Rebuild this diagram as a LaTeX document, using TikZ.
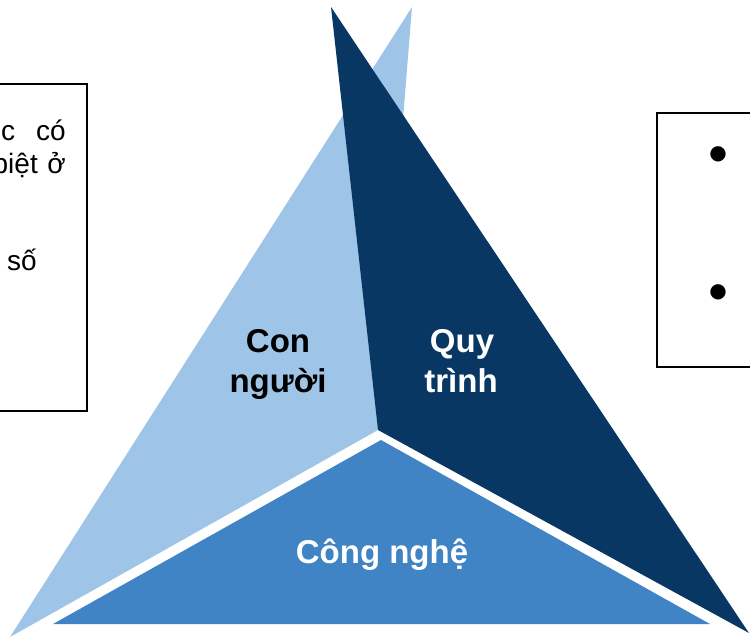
\documentclass[tikz,border=0pt]{standalone}
\usepackage{fontspec}
\setmainfont{Liberation Sans}
\newfontfamily\djv{DejaVu Sans}
\definecolor{lightb}{RGB}{158,196,231}
\definecolor{darkb}{RGB}{9,55,99}
\definecolor{midb}{RGB}{64,132,198}
\tikzset{
  lbl/.style={font=\fontsize{33}{40}\selectfont\bfseries, inner sep=0pt, anchor=base},
  boxtxt/.style={font=\fontsize{28}{32}\selectfont, inner sep=0pt, text=black},
  bul/.style={font=\djv\fontsize{20}{20}\selectfont, inner sep=0pt, text=black},
  frame/.style={draw=black, line width=1.5pt, fill=white}
}
\begin{document}
\begin{tikzpicture}[x=1pt,y=-1pt]
\useasboundingbox (0,0) rectangle (750,638);
\clip (0,0) rectangle (750,638);
% boxes
\draw[frame] (-20,84) rectangle (87,411);
\draw[frame] (657,113) rectangle (770,367);
% left box text fragments
\node[boxtxt, anchor=base west] (l1a) at (1,140) {c};
\node[boxtxt, anchor=base east] (l1b) at (66,140) {có};
\node[boxtxt, anchor=base east] (l2a) at (38,173) {biệt};
\node[boxtxt, anchor=base east] (l2b) at (66,173) {ở};
\node[boxtxt, anchor=base west] (l3a) at (7,270) {số};
% right box bullets
\node[bul] (b1) at (718,154) {●};
\node[bul] (b2) at (718,292) {●};
% triangles
\fill[lightb] (412,7) -- (378,430) -- (10,637) -- cycle;
\fill[darkb] (331,7) -- (378,430) -- (749,633) -- cycle;
\fill[midb] (381,440) -- (710,624) -- (53,624) -- cycle;
% labels
\node[lbl, text=black] (con) at (278,352) {Con};
\node[lbl, text=black] (nguoi) at (278,392) {người};
\node[lbl, text=white] (quy) at (462,352) {Quy};
\node[lbl, text=white] (trinh) at (461,392) {trình};
\node[lbl, text=white] (cn) at (382,563) {Công nghệ};
\end{tikzpicture}
\end{document}
